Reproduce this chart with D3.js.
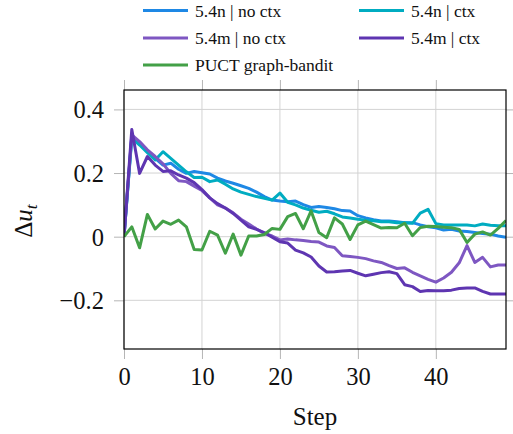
<!DOCTYPE html>
<html><head><meta charset="utf-8">
<script src="https://cdn.jsdelivr.net/npm/d3@7"></script>
<style>body{margin:0;background:#fff}svg{display:block}svg text{font-family:"Liberation Serif","Times New Roman",Times,"DejaVu Serif",serif !important}</style>
</head><body><svg id="c" width="513" height="434"></svg>
<script>
const steps = d3.range(0, 50);
const seriesNames = ["5.4n | no ctx", "5.4n | ctx", "5.4m | no ctx", "5.4m | ctx", "PUCT graph-bandit"];
const seriesColors = ["#1E88E5", "#00ACC1", "#7E57C2", "#5E35B1", "#43A047"];
const n54NoCtx = [0,0.315,0.294,0.267,0.246,0.225,0.231,0.212,0.199,0.205,0.201,0.197,0.184,0.175,0.168,0.160,0.152,0.140,0.126,0.115,0.112,0.110,0.112,0.101,0.092,0.095,0.092,0.088,0.082,0.081,0.066,0.059,0.053,0.049,0.049,0.047,0.044,0.044,0.037,0.031,0.028,0.021,0.023,0.018,0.016,0.013,0.010,0.008,0.002,-0.002];
const n54Ctx = [0,0.31,0.288,0.264,0.241,0.267,0.246,0.225,0.204,0.186,0.187,0.173,0.178,0.165,0.150,0.140,0.133,0.126,0.121,0.115,0.137,0.108,0.100,0.090,0.083,0.077,0.080,0.072,0.062,0.059,0.055,0.052,0.050,0.047,0.047,0.044,0.044,0.042,0.074,0.086,0.041,0.037,0.037,0.037,0.037,0.034,0.040,0.036,0.034,0.034];
const m54NoCtx = [0,0.32,0.299,0.273,0.252,0.229,0.199,0.176,0.173,0.159,0.145,0.122,0.100,0.090,0.075,0.055,0.040,0.024,0.010,0.002,-0.010,-0.007,-0.010,-0.012,-0.015,-0.017,-0.029,-0.034,-0.060,-0.062,-0.065,-0.069,-0.076,-0.081,-0.091,-0.100,-0.098,-0.112,-0.123,-0.134,-0.143,-0.130,-0.112,-0.082,-0.028,-0.081,-0.065,-0.095,-0.089,-0.089];
const m54Ctx = [0,0.337,0.199,0.252,0.225,0.205,0.207,0.194,0.184,0.170,0.148,0.122,0.104,0.090,0.073,0.052,0.031,0.023,0.013,-0.002,-0.016,-0.020,-0.042,-0.051,-0.064,-0.092,-0.111,-0.110,-0.108,-0.106,-0.115,-0.123,-0.118,-0.113,-0.110,-0.116,-0.151,-0.157,-0.172,-0.169,-0.170,-0.170,-0.168,-0.163,-0.161,-0.161,-0.172,-0.180,-0.180,-0.180];
const puct = [0,0.031,-0.035,0.070,0.024,0.049,0.039,0.052,0.031,-0.040,-0.042,0.017,0.005,-0.052,0.008,-0.058,0.002,0.002,0.007,0.026,0.023,0.063,0.073,0.025,0.081,0.013,-0.003,0.059,0.040,-0.009,0.037,0.049,0.038,0.027,0.029,0.028,0.042,0.003,0.029,0.033,0.032,0.030,0.028,0.023,-0.018,0.008,0.015,0.005,0.026,0.051];
const xTicks = [0, 10, 20, 30, 40];
const yTicks = [-0.2, 0, 0.2, 0.4];
const seriesValues = [n54NoCtx, n54Ctx, m54NoCtx, m54Ctx, puct];

const svg = d3.select("#c");
const L = 124, R = 506, T = 90, B = 349;
const x = d3.scaleLinear().domain([0, 49]).range([L, R]);
const y = d3.scaleLinear().domain([-0.353, 0.461]).range([B, T]);
const gridC = "#d3d3d3", tickC = "#b5b5b5", tickLen = 10;

// grid
const g = svg.append("g");
g.selectAll(".gx").data(xTicks).join("line")
  .attr("x1", d => x(d)).attr("x2", d => x(d)).attr("y1", T).attr("y2", B)
  .attr("stroke", gridC).attr("stroke-width", 1);
g.selectAll(".gy").data(yTicks).join("line")
  .attr("y1", d => y(d)).attr("y2", d => y(d)).attr("x1", L).attr("x2", R)
  .attr("stroke", gridC).attr("stroke-width", 1);

// axes with outward ticks on all sides
const axB = svg.append("g").attr("transform", `translate(0,${B})`)
  .call(d3.axisBottom(x).tickValues(xTicks).tickSize(tickLen).tickPadding(6).tickFormat(d3.format("d")));
const axT = svg.append("g").attr("transform", `translate(0,${T})`)
  .call(d3.axisTop(x).tickValues(xTicks).tickSize(tickLen).tickFormat(""));
const axL = svg.append("g").attr("transform", `translate(${L},0)`)
  .call(d3.axisLeft(y).tickValues(yTicks).tickSize(tickLen).tickPadding(10)
    .tickFormat(d => d === 0 ? "0" : (d < 0 ? "\u2212" + Math.abs(d).toFixed(1) : d.toFixed(1))));
const axR = svg.append("g").attr("transform", `translate(${R},0)`)
  .call(d3.axisRight(y).tickValues(yTicks).tickSize(tickLen).tickFormat(""));
[axB, axT, axL, axR].forEach(a => {
  a.select(".domain").remove();
  a.attr("font-family", null);
  a.selectAll(".tick line").attr("stroke", tickC).attr("stroke-width", 1);
  a.selectAll(".tick text").attr("font-size", 24.5).attr("fill", "#111");
});
axB.selectAll(".tick text").attr("dy", "0.8em");
axL.selectAll(".tick text").attr("dy", "0.34em");

// lines
svg.append("clipPath").attr("id", "pc").append("rect")
  .attr("x", L).attr("y", T).attr("width", R - L).attr("height", B - T);
const line = d3.line().x((d, i) => x(steps[i])).y(d => y(d));
svg.append("g").attr("clip-path", "url(#pc)").selectAll("path").data(seriesValues).join("path")
  .attr("d", d => line(d)).attr("fill", "none")
  .attr("stroke", (d, i) => seriesColors[i]).attr("stroke-width", 3)
  .attr("stroke-linejoin", "round");

// frame
svg.append("rect").attr("x", L).attr("y", T).attr("width", R - L).attr("height", B - T)
  .attr("fill", "none").attr("stroke", "#000").attr("stroke-width", 1.2);

// axis labels
svg.append("text").attr("x", (L + R) / 2).attr("y", 425).attr("text-anchor", "middle")
  .attr("font-size", 25).attr("fill", "#111").text("Step");
const yl = svg.append("text").attr("transform", "translate(32,221) rotate(-90)")
  .attr("text-anchor", "middle").attr("font-size", 25).attr("fill", "#111");
yl.append("tspan").text("\u0394");
yl.append("tspan").attr("font-style", "italic").text("u");
yl.append("tspan").attr("font-style", "italic").attr("font-size", 17.5).attr("dy", 5).text("t");

// legend
const legPos = [[143, 10.5], [359, 10.5], [143, 38], [359, 38], [143, 65]];
const leg = svg.append("g").selectAll("g").data(seriesNames).join("g")
  .attr("transform", (d, i) => `translate(${legPos[i][0]},${legPos[i][1]})`);
leg.append("line").attr("x1", 0).attr("x2", 45).attr("y1", 0).attr("y2", 0)
  .attr("stroke", (d, i) => seriesColors[i]).attr("stroke-width", 3);
leg.append("text").attr("x", 52).attr("y", 6).attr("font-size", 17.5)
  .attr("fill", "#111").text(d => d);
</script></body></html>
